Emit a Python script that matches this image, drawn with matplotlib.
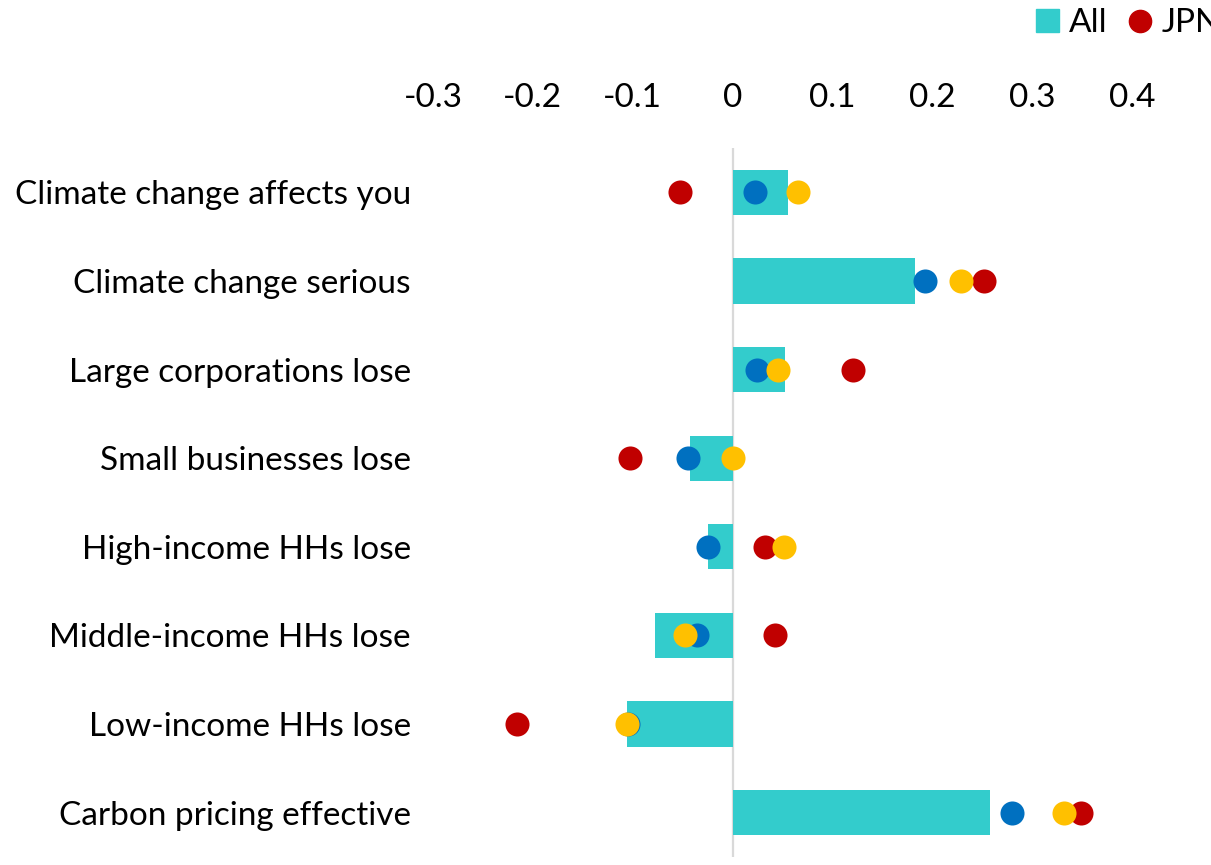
import matplotlib.pyplot as plt
from matplotlib.lines import Line2D
from matplotlib.patches import Patch

# data
categories = ["Climate change affects you", "Climate change serious",
              "Large corporations lose", "Small businesses lose",
              "High-income HHs lose", "Middle-income HHs lose",
              "Low-income HHs lose", "Carbon pricing effective"]
all_vals = [0.055, 0.183, 0.052, -0.043, -0.025, -0.078, -0.106, 0.258]
jpn_vals = [-0.053, 0.252, 0.121, -0.103, 0.032, 0.042, -0.216, 0.349]
blue_vals = [0.022, 0.193, 0.024, -0.045, -0.025, -0.036, -0.105, 0.280]
yellow_vals = [0.065, 0.229, 0.045, 0.000, 0.051, -0.048, -0.106, 0.332]
ticks = [-0.3, -0.2, -0.1, 0, 0.1, 0.2, 0.3, 0.4]
tick_labels = ["-0.3", "-0.2", "-0.1", "0", "0.1", "0.2", "0.3", "0.4"]

plt.rcParams['font.family'] = ['Lato', 'DejaVu Sans']

W, H = 1211, 865
fig = plt.figure(figsize=(W / 100, H / 100), dpi=100)
ax = fig.add_axes([433 / W, 1 - 857 / H, 1 - 433 / W, 709 / H])

y = list(range(len(categories)))
ax.axvline(0, color='#D9D9D9', lw=1.6, zorder=1)
ax.barh(y, all_vals, height=0.51, color='#33CCCC', zorder=2)
ax.scatter(jpn_vals, y, s=300, color='#C00000', zorder=3, linewidths=0)
ax.scatter(blue_vals, y, s=300, color='#0070C0', zorder=4, linewidths=0)
ax.scatter(yellow_vals, y, s=300, color='#FFC000', zorder=5, linewidths=0)

ax.set_xlim(-0.3, 0.479)
ax.set_ylim(7.5, -0.5)
ax.set_yticks(y)
ax.set_yticklabels(categories, fontsize=24)
ax.set_xticks(ticks)
ax.set_xticklabels(tick_labels, fontsize=24)
ax.xaxis.tick_top()
ax.tick_params(axis='x', length=0, pad=25)
ax.tick_params(axis='y', length=0, pad=16)
for s in ax.spines.values():
    s.set_visible(False)

handles = [Patch(color='#33CCCC', label='All'),
           Line2D([], [], marker='o', ls='', color='#C00000', markersize=16, label='JPN')]
fig.legend(handles=handles, loc='upper left', bbox_to_anchor=(1006 / W, 1.025),
           ncol=2, frameon=False, fontsize=24, handlelength=0.7, handletextpad=0.3,
           columnspacing=0.6)

fig.savefig('out.png')
